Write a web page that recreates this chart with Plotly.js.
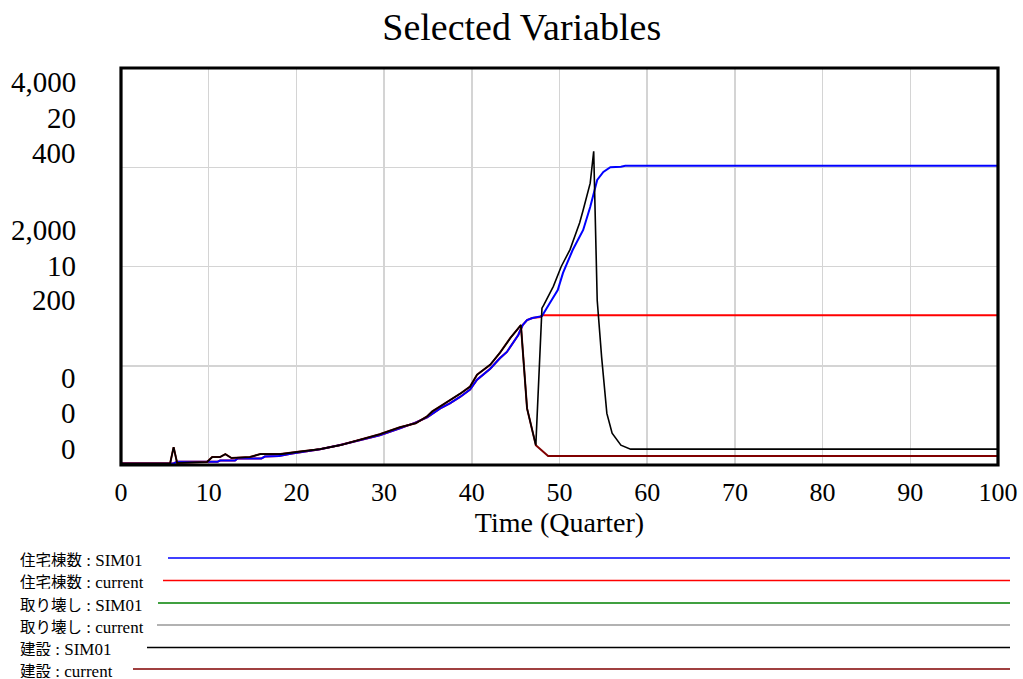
<!DOCTYPE html>
<html><head><meta charset="utf-8">
<script src="https://cdn.plot.ly/plotly-3.0.1.min.js"></script>
<style>html,body{margin:0;padding:0;background:#fff;} #chart{width:1023px;height:679px;}</style>
</head><body><div id="chart"></div>
<script>
// ---- data ----
const tHouseSim = [0,6,6.4,11,11.3,13,13.3,16,16.4,18,19.5,21,22.7,25,27.3,29.5,31.8,33.5,34.9,36.4,37.5,38.7,39.8,40.6,42.1,43.2,44,45.3,45.8,46.3,46.9,47.8,48,48.9,49.8,50.4,51.5,52.7,53.5,54.3,55,55.8,57,57.5,100];
const vHouseSim = [15,15,32,32,45,45,65,65,85,90,115,135,158,201,255,300,370,425,480,571,622,688,760,860,970,1075,1139,1310,1410,1460,1481,1491,1500,1632,1763,1935,2166,2368,2600,2872,2952,3000,3005,3015,3015];
const tHouseCur = [0,6,6.4,11,11.3,13,13.3,16,16.4,18,19.5,21,22.7,25,27.3,29.5,31.8,33.5,34.9,36.4,37.5,38.7,39.8,40.6,42.1,43.2,44,45.3,45.8,46.3,46.9,47.8,48,100];
const vHouseCur = [15,15,32,32,45,45,65,65,85,90,115,135,158,201,255,300,370,425,480,571,622,688,760,860,970,1075,1139,1310,1410,1460,1481,1491,1510,1510];
const tDemoSim = [0,100];
const vDemoSim = [0,0];
const tDemoCur = [0,100];
const vDemoCur = [0,0];
const tBuildSim = [0,5.6,6,6.4,9.8,10.4,11.3,11.9,12.6,14.7,15.9,18.2,20.4,22.7,25,27.3,29.5,31.8,33.6,34.9,35.5,36.4,37.5,38.7,39.8,40.6,42.1,43.2,44.4,45.6,46.3,47.3,48,48.2,49.3,50.2,51.2,52.3,52.7,53.5,53.9,54.3,54.8,55.4,56,57,58.1,100];
const vBuildSim = [1.5,1.5,18,2,3,8,8,11,7,8,11,11,13.5,16,20,26,31,38,42,49,54,59,65,72,79,91,101,113,128,141,57,20,158,161,180,200,217,244,257,284,316,166,109,52,32,20,16,16];
const tBuildCur = [0,5.6,6,6.4,9.8,10.4,11.3,11.9,12.6,14.7,15.9,18.2,20.4,22.7,25,27.3,29.5,31.8,33.6,34.9,35.5,36.4,37.5,38.7,39.8,40.6,42.1,43.2,44.4,45.6,46.3,47.3,48.7,100];
const vBuildCur = [1.5,1.5,18,2,3,8,8,11,7,8,11,11,13.5,16,20,26,31,38,42,49,54,59,65,72,79,91,101,113,128,141,57,20,9,9];

const yTicksHouse = ['0','2,000','4,000'];
const yTicksDemo  = ['0','10','20'];
const yTicksBuild = ['0','200','400'];
const xTickVals = [0,10,20,30,40,50,60,70,80,90,100];

const legendNames = ['住宅棟数','住宅棟数','取り壊し','取り壊し','建設','建設'];
const legendRuns  = ['SIM01','current','SIM01','current','SIM01','current'];
const legendColors = ['#0000ff','#ff0000','#008000','#999999','#000000','#800000'];

// ---- layout helpers (pixels -> paper) ----
const L=121,R=998,T=68,B=465;
const px = p => (p-L)/(R-L);
const py = p => (B-p)/(B-T);
const serif = 'Liberation Serif, Times New Roman, serif';

const traces = [
  {x:tDemoCur,y:vDemoCur,yaxis:'y2',mode:'lines',line:{color:'#999999',width:1.5},name:legendNames[3]+' : '+legendRuns[3]},
  {x:tDemoSim,y:vDemoSim,yaxis:'y2',mode:'lines',line:{color:'#008000',width:1.5},name:legendNames[2]+' : '+legendRuns[2]},
  {x:tBuildCur,y:vBuildCur,yaxis:'y3',mode:'lines',line:{color:'#800000',width:2},name:legendNames[5]+' : '+legendRuns[5]},
  {x:tBuildSim,y:vBuildSim,yaxis:'y3',mode:'lines',line:{color:'#000000',width:1.6},name:legendNames[4]+' : '+legendRuns[4]},
  {x:tHouseCur,y:vHouseCur,yaxis:'y',mode:'lines',line:{color:'#ff0000',width:2},name:legendNames[1]+' : '+legendRuns[1]},
  {x:tHouseSim,y:vHouseSim,yaxis:'y',mode:'lines',line:{color:'#0000ff',width:2},name:legendNames[0]+' : '+legendRuns[0]}
];

// y label groups: [bottom, middle, top], each three lines
const groupLineY = [[378,413,449],[230,266,300],[82,118,153]];
const annotations = [];
for (let i=0;i<3;i++){
  const lines=[yTicksHouse[i],yTicksDemo[i],yTicksBuild[i]];
  for (let k=0;k<3;k++){
    annotations.push({xref:'paper',yref:'paper',x:px(78),y:py(groupLineY[i][k]),xanchor:'right',yanchor:'middle',align:'right',
      text:lines[k],showarrow:false,font:{family:serif,size:29,color:'#000'}});
  }
}
const rowY=[558,580.5,603,625,647.5,669];
const lineStart=[168,163,158,157,147,133];
const shapes=[];
for (let i=0;i<6;i++){
  annotations.push({xref:'paper',yref:'paper',x:px(19),y:py(rowY[i]),xanchor:'left',yanchor:'middle',showarrow:false,
    height:17,borderpad:0,
    text:'<span style="font-family:Noto Sans CJK JP;font-size:15.5px">'+legendNames[i]+'</span> : '+legendRuns[i],
    font:{family:serif,size:17,color:'#000'}});
  shapes.push({type:'line',xref:'paper',yref:'paper',x0:px(lineStart[i]),x1:px(1010),y0:py(rowY[i]),y1:py(rowY[i]),line:{color:legendColors[i],width:1.5}});
}
// plot frame drawn above the traces
shapes.push({type:'rect',xref:'paper',yref:'paper',x0:0,x1:1,y0:0,y1:1,layer:'above',line:{color:'#000',width:3.2},fillcolor:'rgba(0,0,0,0)'});

const layout = {
  width:1023,height:679,
  margin:{l:L,r:1023-R,t:T,b:679-B,pad:0},
  paper_bgcolor:'#fff',plot_bgcolor:'#fff',
  showlegend:false,
  title:{text:'Selected Variables',x:0.51,xanchor:'center',y:1-27/679,yanchor:'middle',font:{family:serif,size:38,color:'#000'}},
  xaxis:{range:[0,100],tickvals:xTickVals,showgrid:true,gridcolor:'#d4d4d4',gridwidth:1.5,zeroline:false,
    showline:false,ticks:'',ticklabelstandoff:9,tickfont:{family:serif,size:26,color:'#000'},
    title:{text:'Time (Quarter)',font:{family:serif,size:28,color:'#000'},standoff:6}},
  yaxis:{range:[0,4000],dtick:1000,showgrid:true,gridcolor:'#d4d4d4',gridwidth:1.5,zeroline:false,
    showline:false,ticks:'',showticklabels:false},
  yaxis2:{range:[0,20],overlaying:'y',visible:false},
  yaxis3:{range:[0,400],overlaying:'y',visible:false},
  annotations:annotations,shapes:shapes
};
Plotly.newPlot('chart',traces,layout,{displayModeBar:false,staticPlot:true});
</script></body></html>
